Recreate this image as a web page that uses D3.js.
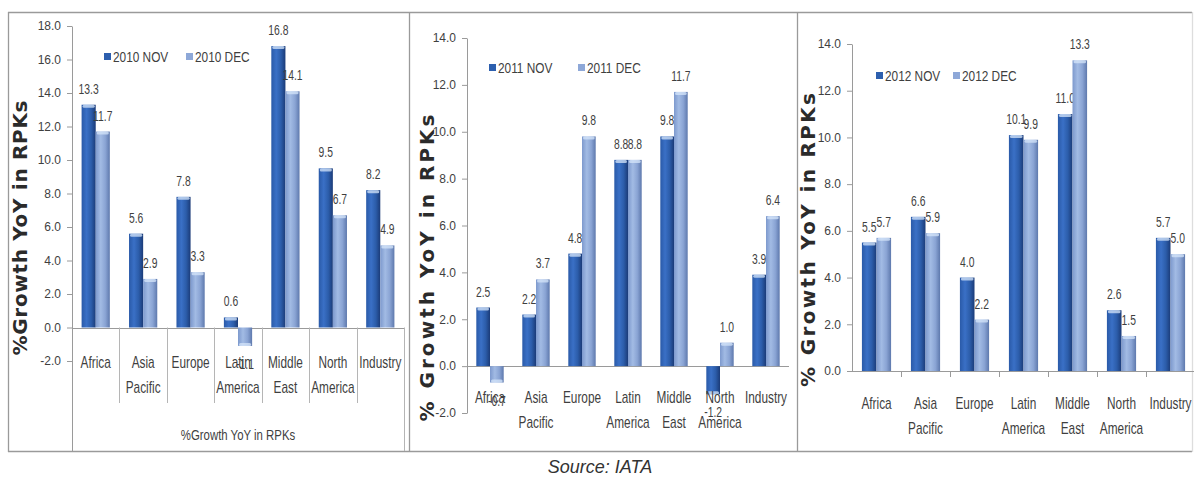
<!DOCTYPE html>
<html>
<head>
<meta charset="utf-8">
<script src="https://cdn.jsdelivr.net/npm/d3@7"></script>
<style>
  html, body { margin: 0; padding: 0; background: #fff; }
  svg { display: block; }
</style>
</head>
<body>
<svg id="chart" width="1194" height="481"></svg>
<script>
// Regions shared by all three years
const regions = ["Africa", "Asia Pacific", "Europe", "Latin America", "Middle East", "North America", "Industry"];

// % growth YoY in RPKs, November and December of each year
const nov2010 = [13.3, 5.6, 7.8, 0.6, 16.8, 9.5, 8.2];
const dec2010 = [11.7, 2.9, 3.3, -1.1, 14.1, 6.7, 4.9];
const nov2011 = [2.5, 2.2, 4.8, 8.8, 9.8, -1.2, 3.9];
const dec2011 = [-0.7, 3.7, 9.8, 8.8, 11.7, 1.0, 6.4];
const nov2012 = [5.5, 6.6, 4.0, 10.1, 11.0, 2.6, 5.7];
const dec2012 = [5.7, 5.9, 2.2, 9.9, 13.3, 1.5, 5.0];

// Series names (legend entries)
const series2010 = ["2010 NOV", "2010 DEC"];
const series2011 = ["2011 NOV", "2011 DEC"];
const series2012 = ["2012 NOV", "2012 DEC"];

// Y-axis tick values
const ticks2010 = [-2, 0, 2, 4, 6, 8, 10, 12, 14, 16, 18];
const ticks2011 = [-2, 0, 2, 4, 6, 8, 10, 12, 14];
const ticks2012 = [0, 2, 4, 6, 8, 10, 12, 14];

// Text
const yTitle2010 = "%Growth YoY in RPKs";
const yTitleOther = "% Growth YoY in RPKs";
const xTitle2010 = "%Growth YoY in RPKs";
const sourceNote = "Source: IATA";

const SANS = "'Liberation Sans', Arial, sans-serif";
const TEXT = "#3f3f3f";
const RULE = "#9a9a9a";

const svg = d3.select("#chart");

// Text drawn in a condensed face: placed by translate, narrowed by scale
function condensed(parent, x, y, size, str, squeeze, anchor = "middle") {
  return parent.append("text")
    .attr("transform", `translate(${x},${y}) scale(${squeeze},1)`)
    .attr("text-anchor", anchor).attr("font-family", SANS).attr("font-size", size)
    .attr("fill", TEXT).text(str);
}

// Cylinder-like horizontal shading for the two series
const defs = svg.append("defs");
function shade(id, stops) {
  const lg = defs.append("linearGradient").attr("id", id)
    .attr("x1", "0").attr("x2", "1").attr("y1", "0").attr("y2", "0");
  stops.forEach(([o, c]) => lg.append("stop").attr("offset", o).attr("stop-color", c));
}
shade("gNov", [["0%", "#2a5aa8"], ["35%", "#3a70c6"], ["68%", "#2c5daa"], ["100%", "#1b3b78"]]);
shade("gDec", [["0%", "#7d99cd"], ["35%", "#a2bbe4"], ["68%", "#8aa4d4"], ["100%", "#5e79ad"]]);
const fills = { nov: "url(#gNov)", dec: "url(#gDec)" };
const swatch = { nov: "#2d5fae", dec: "#8ea8d8" };

// Panel frames
const frame = svg.append("g").attr("stroke", RULE).attr("stroke-width", 1.3).attr("fill", "none");
frame.append("line").attr("x1", 8).attr("x2", 1192).attr("y1", 12.5).attr("y2", 12.5);
frame.append("line").attr("x1", 8).attr("x2", 1192).attr("y1", 451.5).attr("y2", 451.5);
[8.5, 409.5, 797.5].forEach(x =>
  frame.append("line").attr("x1", x).attr("x2", x).attr("y1", 12).attr("y2", 452));
frame.append("line").attr("x1", 1192.5).attr("x2", 1192.5).attr("y1", 12).attr("y2", 452)
  .attr("stroke", "#dddddd");

const panels = [
  { nov: nov2010, dec: dec2010, series: series2010, ticks: ticks2010, domain: [-2, 18],
    left: 72, right: 404, top: 26, bottom: 361, labelY: 368,
    legendX: 104, legendY: 57, legendGap: 82,
    title: yTitle2010, titleX: 20, titleY: 228, titleLen: 255,
    style: "multilevel" },
  { nov: nov2011, dec: dec2011, series: series2011, ticks: ticks2011, domain: [-2, 14],
    left: 467, right: 789, top: 38, bottom: 413, labelY: 403,
    legendX: 489, legendY: 68, legendGap: 89,
    title: yTitleOther, titleX: 427, titleY: 268, titleLen: 307,
    style: "plain" },
  { nov: nov2012, dec: dec2012, series: series2012, ticks: ticks2012, domain: [0, 14],
    left: 852, right: 1195, top: 44, bottom: 371, labelY: 409,
    legendX: 876, legendY: 76, legendGap: 77,
    title: yTitleOther, titleX: 808, titleY: 240, titleLen: 294,
    style: "ticked" }
];

function drawPanel(p) {
  const g = svg.append("g");
  const keys = ["nov", "dec"];
  const x0 = d3.scaleBand().domain(regions).range([p.left, p.right]).padding(0);
  const x1 = d3.scaleBand().domain(keys).range([0, x0.bandwidth()])
    .paddingInner(0).paddingOuter(0.68);
  const y = d3.scaleLinear().domain(p.domain).range([p.bottom, p.top]);
  const y0 = y(0);

  // Y axis
  const ax = g.append("g").attr("transform", `translate(${p.left},0)`)
    .call(d3.axisLeft(y).tickValues(p.ticks).tickFormat(d => d.toFixed(1))
      .tickSize(5).tickSizeOuter(0).tickPadding(6));
  ax.select(".domain").attr("stroke", RULE);
  ax.selectAll(".tick line").attr("stroke", RULE);
  ax.selectAll(".tick text").attr("font-family", SANS).attr("font-size", 12).attr("fill", TEXT);

  // Category axis line
  g.append("line").attr("x1", p.left).attr("x2", p.right)
    .attr("y1", Math.round(y0) + 0.5).attr("y2", Math.round(y0) + 0.5)
    .attr("stroke", RULE).attr("stroke-width", 1.2);

  if (p.style === "multilevel") {
    // axis continues to the frame; category boxes below the zero line
    g.append("line").attr("x1", p.left + 0.5).attr("x2", p.left + 0.5)
      .attr("y1", p.bottom).attr("y2", 451).attr("stroke", RULE);
    regions.slice(1).forEach(r => {
      const x = Math.round(x0(r)) + 0.5;
      g.append("line").attr("x1", x).attr("x2", x).attr("y1", y0).attr("y2", 403)
        .attr("stroke", "#b5b5b5");
    });
    g.append("line").attr("x1", p.right + 0.5).attr("x2", p.right + 0.5)
      .attr("y1", y0).attr("y2", 451).attr("stroke", "#b5b5b5");
    condensed(g, (p.left + p.right) / 2, 440, 15, xTitle2010, 0.76);
  } else if (p.style === "ticked") {
    regions.slice(1).forEach(r => {
      const x = Math.round(x0(r)) + 0.5;
      g.append("line").attr("x1", x).attr("x2", x).attr("y1", y0).attr("y2", y0 + 6)
        .attr("stroke", RULE);
    });
  }

  // Bars
  const groups = g.selectAll(".cat").data(regions).join("g")
    .attr("class", "cat").attr("transform", d => `translate(${x0(d)},0)`);
  const bars = groups.selectAll(".bar")
    .data((d, i) => keys.map(k => ({ key: k, v: p[k][i] })))
    .join("g").attr("class", "bar");
  bars.append("rect")
    .attr("x", d => x1(d.key)).attr("width", x1.bandwidth())
    .attr("y", d => d.v >= 0 ? y(d.v) : y0)
    .attr("height", d => Math.abs(y(d.v) - y0))
    .attr("fill", d => fills[d.key]);
  // light cap at the bar end
  bars.append("rect")
    .attr("x", d => x1(d.key) + 1).attr("width", x1.bandwidth() - 2)
    .attr("y", d => d.v >= 0 ? y(d.v) : y(d.v) - 3)
    .attr("height", 3).attr("rx", 1.5)
    .attr("fill", "#d6e6fa").attr("opacity", 0.75);
  // value labels
  bars.each(function (d) {
    condensed(d3.select(this), x1(d.key) + x1.bandwidth() / 2,
      d.v >= 0 ? y(d.v) - 11 : y(d.v) + 23, 14, d.v.toFixed(1), 0.74);
  });

  // Category labels (two lines when the name has two words)
  regions.forEach(r => {
    r.split(" ").forEach((w, i) => {
      condensed(g, x0(r) + x0.bandwidth() / 2, p.labelY + i * 25, 16, w, 0.74);
    });
  });

  // Legend
  const lg = g.append("g");
  keys.forEach((k, i) => {
    const lx = p.legendX + i * p.legendGap;
    lg.append("rect").attr("x", lx).attr("y", p.legendY - 4).attr("width", 7).attr("height", 7)
      .attr("fill", swatch[k]);
    condensed(lg, lx + 9, p.legendY + 5, 15, p.series[i], 0.79, "start");
  });

  // Y-axis title
  g.append("text")
    .attr("transform", `translate(${p.titleX + 7},${p.titleY}) rotate(-90)`)
    .attr("text-anchor", "middle").attr("font-family", "'DejaVu Sans', Verdana, sans-serif")
    .attr("font-weight", "bold").attr("font-size", 20).attr("fill", "#2b2b2b")
    .attr("textLength", p.titleLen).attr("lengthAdjust", "spacing")
    .text(p.title);
}

panels.forEach(drawPanel);

svg.append("text").attr("x", 600).attr("y", 473).attr("text-anchor", "middle")
  .attr("font-family", SANS).attr("font-style", "italic").attr("font-size", 18)
  .attr("fill", "#333").text(sourceNote);
</script>
</body>
</html>
